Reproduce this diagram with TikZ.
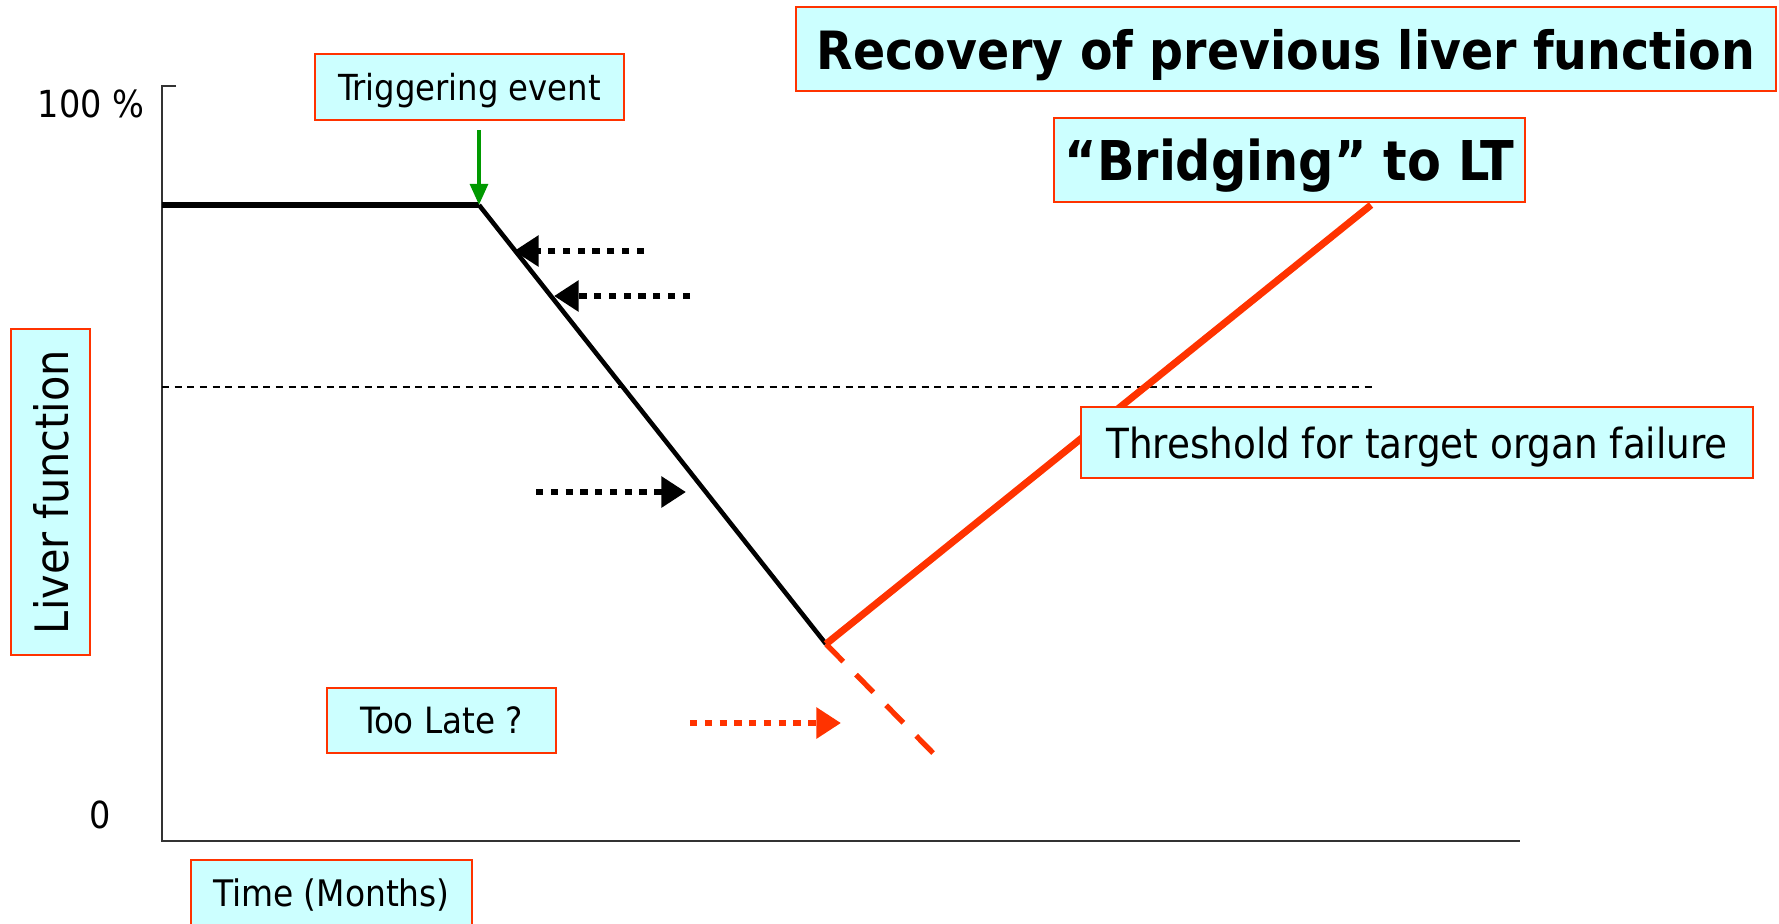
\documentclass[tikz,border=0pt]{standalone}
\usepackage{fontspec}
\setmainfont{DejaVu Sans Condensed}
\usepackage{tikz}
\usetikzlibrary{arrows.meta,positioning,calc}
\definecolor{boxfill}{HTML}{CCFFFF}
\definecolor{boxline}{HTML}{FF3300}
\definecolor{trgreen}{HTML}{009900}
\tikzset{lbl/.style={draw=boxline,fill=boxfill,line width=0.6pt,inner sep=0pt,align=center,text depth=0pt}}

\begin{document}
\begin{tikzpicture}[x=0.01cm, y=-0.01cm, >=Triangle, semithick]
\tikzstyle{dotarrow}=[line width=1.9pt, dash pattern=on 2.1pt off 2.1pt, -{Triangle[length=7pt,width=8.5pt]}]
\tikzstyle{ticklbl}=[inner sep=0pt, font=\fontsize{10.6}{12}\selectfont]
    \useasboundingbox (0,0) rectangle (1779,923);

    % axes
    \coordinate (top) at (162,86);
    \coordinate (orig) at (162,841);
    \coordinate (xend) at (1520,841);
    \draw[line width=0.6pt, black!80] ($(top)+(14,0)$) -- (top) -- (orig) -- (xend);
    \node[ticklbl] (hundred) at (91,104) {100 \%};
    \node[ticklbl] (zero) at (100,815) {0};

    % threshold
    \coordinate (thl) at (162,387);
    \coordinate (thr) at (1373,387);
    \draw[line width=0.35pt, dash pattern=on 2pt off 1.6pt] (thl) -- (thr);

    % liver function course
    \coordinate (start) at (162,205);
    \coordinate (trigpt) at (479,205);
    \coordinate (low) at (826,644);
    \coordinate (peak) at (1371,205);
    \coordinate (fail) at (933,753);
    \draw[line width=1.8pt] (start) -- (trigpt);
    \draw[line width=1.3pt] (trigpt) -- (low);
    \draw[line width=2pt, boxline] (low) -- (peak);
    \draw[line width=1.5pt, boxline, dash pattern=on 7pt off 5.2pt] (low) -- (fail);

    % arrows
    \coordinate (trigs) at (479,130);
    \draw[line width=1.2pt, trgreen, -{Triangle[length=6pt,width=5pt]}] (trigs) -- (trigpt);
    \coordinate (d1s) at (644,251);
    \coordinate (d1e) at (514,251);
    \coordinate (d2s) at (690,296);
    \coordinate (d2e) at (554,296);
    \coordinate (d3s) at (536,492);
    \coordinate (d3e) at (686,492);
    \coordinate (d4s) at (690,723);
    \coordinate (d4e) at (841,723);
    \draw[dotarrow] (d1s) -- (d1e);
    \draw[dotarrow] (d2s) -- (d2e);
    \draw[dotarrow] (d3s) -- (d3e);
    \draw[dotarrow, boxline] (d4s) -- (d4e);

    % labels
    \node[lbl, minimum width=3.09cm, minimum height=0.66cm, font=\fontsize{10.2}{12}\selectfont] (trig) at (469.5,87) {Triggering event};
    \node[lbl, minimum width=9.8cm, minimum height=0.84cm, font=\fontsize{15}{18}\selectfont\bfseries] (recov) at (1286,49) {Recovery of previous liver function};
    \node[lbl, minimum width=4.71cm, minimum height=0.84cm, font=\fontsize{15.6}{18}\selectfont\bfseries] (bridge) at (1289.5,160) {“Bridging” to LT};
    \node[lbl, minimum width=6.72cm, minimum height=0.71cm, font=\fontsize{11.8}{14}\selectfont] (thresh) at (1417,442.5) {Threshold for target organ failure};
    \node[lbl, minimum width=2.29cm, minimum height=0.65cm, font=\fontsize{10.3}{12}\selectfont] (late) at (441.5,720.5) {Too Late ?};
    \node[lbl, rotate=90, minimum width=3.26cm, minimum height=0.79cm, font=\fontsize{13.1}{15}\selectfont] (liver) at (50.5,492) {Liver function};
    \node[lbl, minimum width=2.81cm, minimum height=0.66cm, font=\fontsize{10.4}{12}\selectfont] (time) at (331.5,893) {Time (Months)};
\end{tikzpicture}
\end{document}
